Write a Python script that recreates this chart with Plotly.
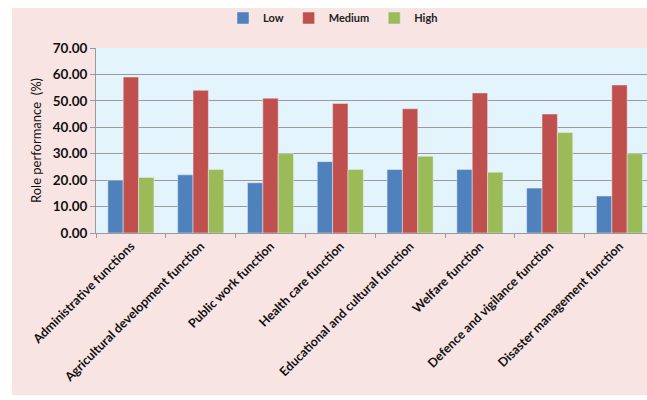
import plotly.graph_objects as go

categories = [
    "Administrative functions",
    "Agricultural development function",
    "Public work function",
    "Health care function",
    "Educational and cultural function",
    "Welfare function",
    "Defence and vigilance function",
    "Disaster management function",
]
low = [20, 22, 19, 27, 24, 24, 17, 14]
medium = [59, 54, 51, 49, 47, 53, 45, 56]
high = [21, 24, 30, 24, 29, 23, 38, 30]

W, H = 647, 400
L, R, T, B = 96, 0, 48, 167
FONT = "Lato"

fig = go.Figure()
fig.add_trace(go.Bar(name="Low", x=categories, y=low, marker_color="#4F81BD"))
fig.add_trace(go.Bar(name="Medium", x=categories, y=medium, marker_color="#C0504D"))
fig.add_trace(go.Bar(name="High", x=categories, y=high, marker_color="#9BBB59"))

pw = W - L - R
ph = H - T - B

def px_x(p):
    return (p - L) / pw

def px_y(p):
    return (H - B - p) / ph

shapes = [
    dict(type="rect", xref="paper", yref="paper", x0=px_x(0), x1=px_x(12), y0=px_y(H), y1=px_y(0),
         fillcolor="white", line_width=0, layer="below"),
    dict(type="rect", xref="paper", yref="paper", x0=px_x(0), x1=px_x(W), y0=px_y(8), y1=px_y(0),
         fillcolor="white", line_width=0, layer="below"),
    dict(type="rect", xref="paper", yref="paper", x0=px_x(0), x1=px_x(W), y0=px_y(H), y1=px_y(395),
         fillcolor="white", line_width=0, layer="below"),
]

fig.update_layout(
    width=W, height=H, autosize=False,
    margin=dict(l=L, r=R, t=T, b=B, pad=0),
    paper_bgcolor="#F9E4E4",
    plot_bgcolor="#E4F4FC",
    barmode="group", bargap=0.34, bargroupgap=0,
    font=dict(family=FONT, color="#222222", size=11),
    shapes=shapes,
    legend=dict(
        orientation="h", x=px_x(333), xanchor="center", y=px_y(18), yanchor="middle",
        font=dict(family=FONT, size=11, color="#222222", weight="bold"),
        bgcolor="rgba(0,0,0,0)", itemwidth=30, tracegroupgap=0,
    ),
    showlegend=True,
)
fig.update_xaxes(
    range=[-0.5, -0.5 + pw / 69.8],
    tickangle=-45, tickson="boundaries", ticks="outside", ticklen=4, tickcolor="#9a9a9a",
    showline=True, linecolor="#9a9a9a", linewidth=1, showgrid=False,
    tickfont=dict(family=FONT, size=12.5, color="#111111", weight="bold"),
)
fig.update_yaxes(
    range=[0, 70], dtick=10, tickformat=".2f",
    ticks="outside", ticklen=5, tickcolor="#9a9a9a",
    showline=True, linecolor="#9a9a9a", linewidth=1,
    showgrid=True, gridcolor="#9a9a9a", gridwidth=1, zeroline=False,
    tickfont=dict(family=FONT, size=13.5, color="#111111", weight="bold"),
    title=dict(text="Role performance  (%)", standoff=8,
               font=dict(family=FONT, size=13, color="#111111")),
)

fig.write_html("out.html")
